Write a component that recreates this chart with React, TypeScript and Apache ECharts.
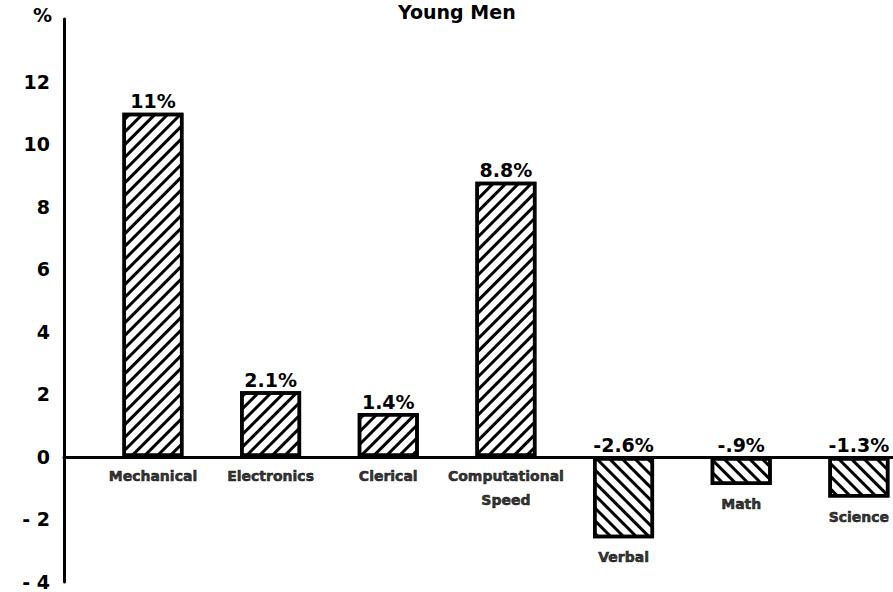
import React, { useEffect, useRef } from "react";
import * as echarts from "echarts";

const titleText = "Young Men";
const categories = [
  "Mechanical",
  "Electronics",
  "Clerical",
  "Computational\nSpeed",
  "Verbal",
  "Math",
  "Science",
];
const values = [11, 2.1, 1.4, 8.8, -2.6, -0.9, -1.3];
const yMin = -4;
const yMax = 14;
const yStep = 2;

const FONT = "DejaVu Sans";

function fmtValue(v: number): string {
  if (v < 0) {
    const a = -v;
    const s = a < 1 ? String(a).replace(/^0/, "") : String(a);
    return "-" + s + "%";
  }
  return String(v) + "%";
}

export default function App() {
  const ref = useRef<HTMLDivElement>(null);
  useEffect(() => {
    if (!ref.current) return;
    const chart = echarts.init(ref.current, undefined, { renderer: "svg" });
    const decalPos = {
      symbol: "rect",
      symbolSize: 1,
      color: "#000",
      dashArrayX: [1, 0],
      dashArrayY: [3, 6],
      rotation: -Math.PI / 4,
    };
    const decalNeg = { ...decalPos, rotation: Math.PI / 4 };
    const option: any = {
      animation: false,
      backgroundColor: "#fff",
      title: {
        text: titleText,
        left: 398,
        top: 2,
        padding: 0,
        textStyle: { fontFamily: FONT, fontWeight: "bold", fontSize: 19, color: "#000" },
      },
      grid: { left: 64, right: 0, top: 19, bottom: 10, containLabel: false },
      xAxis: {
        type: "value",
        min: -0.756,
        max: 6.29,
        axisLine: { show: true, onZero: true, lineStyle: { color: "#000", width: 3 } },
        axisTick: { show: false },
        axisLabel: { show: false },
        splitLine: { show: false },
      },
      yAxis: {
        type: "value",
        min: yMin,
        max: yMax,
        interval: yStep,
        name: "%",
        nameLocation: "end",
        nameGap: 4,
        nameTextStyle: {
          fontFamily: FONT,
          fontWeight: "bold",
          fontSize: 19,
          color: "#000",
          align: "right",
          verticalAlign: "middle",
          padding: [0, 12, 0, 0],
        },
        axisLine: { show: true, onZero: false, lineStyle: { color: "#000", width: 3 } },
        axisTick: { show: false },
        splitLine: { show: false },
        axisLabel: {
          margin: 14,
          fontFamily: FONT,
          fontWeight: "bold",
          fontSize: 19,
          color: "#000",
          formatter: (v: number) => (v === yMax ? "" : v < 0 ? "- " + -v : String(v)),
        },
      },
      series: [
        {
          type: "bar",
          barWidth: 61,
          data: values.map((v, i) => ({
            value: [i, v],
            itemStyle: { decal: v >= 0 ? decalPos : decalNeg },
          })),
          itemStyle: { color: "#fff", borderColor: "#000", borderWidth: 3.5 },
          label: {
            show: true,
            position: "top",
            distance: 2,
            fontFamily: FONT,
            fontWeight: "bold",
            fontSize: 19,
            color: "#000",
            formatter: (p: any) => fmtValue(p.value[1]),
          },
        },
        {
          type: "scatter",
          symbolSize: 0,
          silent: true,
          data: values.map((v, i) => [i, Math.min(0, v)]),
          label: {
            show: true,
            position: "bottom",
            distance: 7,
            fontFamily: FONT,
            fontWeight: "bold",
            fontSize: 14,
            lineHeight: 24,
            color: "#000",
            textBorderColor: "#000",
            textBorderWidth: 0.6,
            formatter: (p: any) => categories[p.dataIndex],
          },
          z: 5,
        },
      ],
    };
    chart.setOption(option);
    return () => chart.dispose();
  }, []);
  return (
    <div
      ref={ref}
      style={{ position: "fixed", left: 0, top: 0, width: 893, height: 592, background: "#fff" }}
    />
  );
}
